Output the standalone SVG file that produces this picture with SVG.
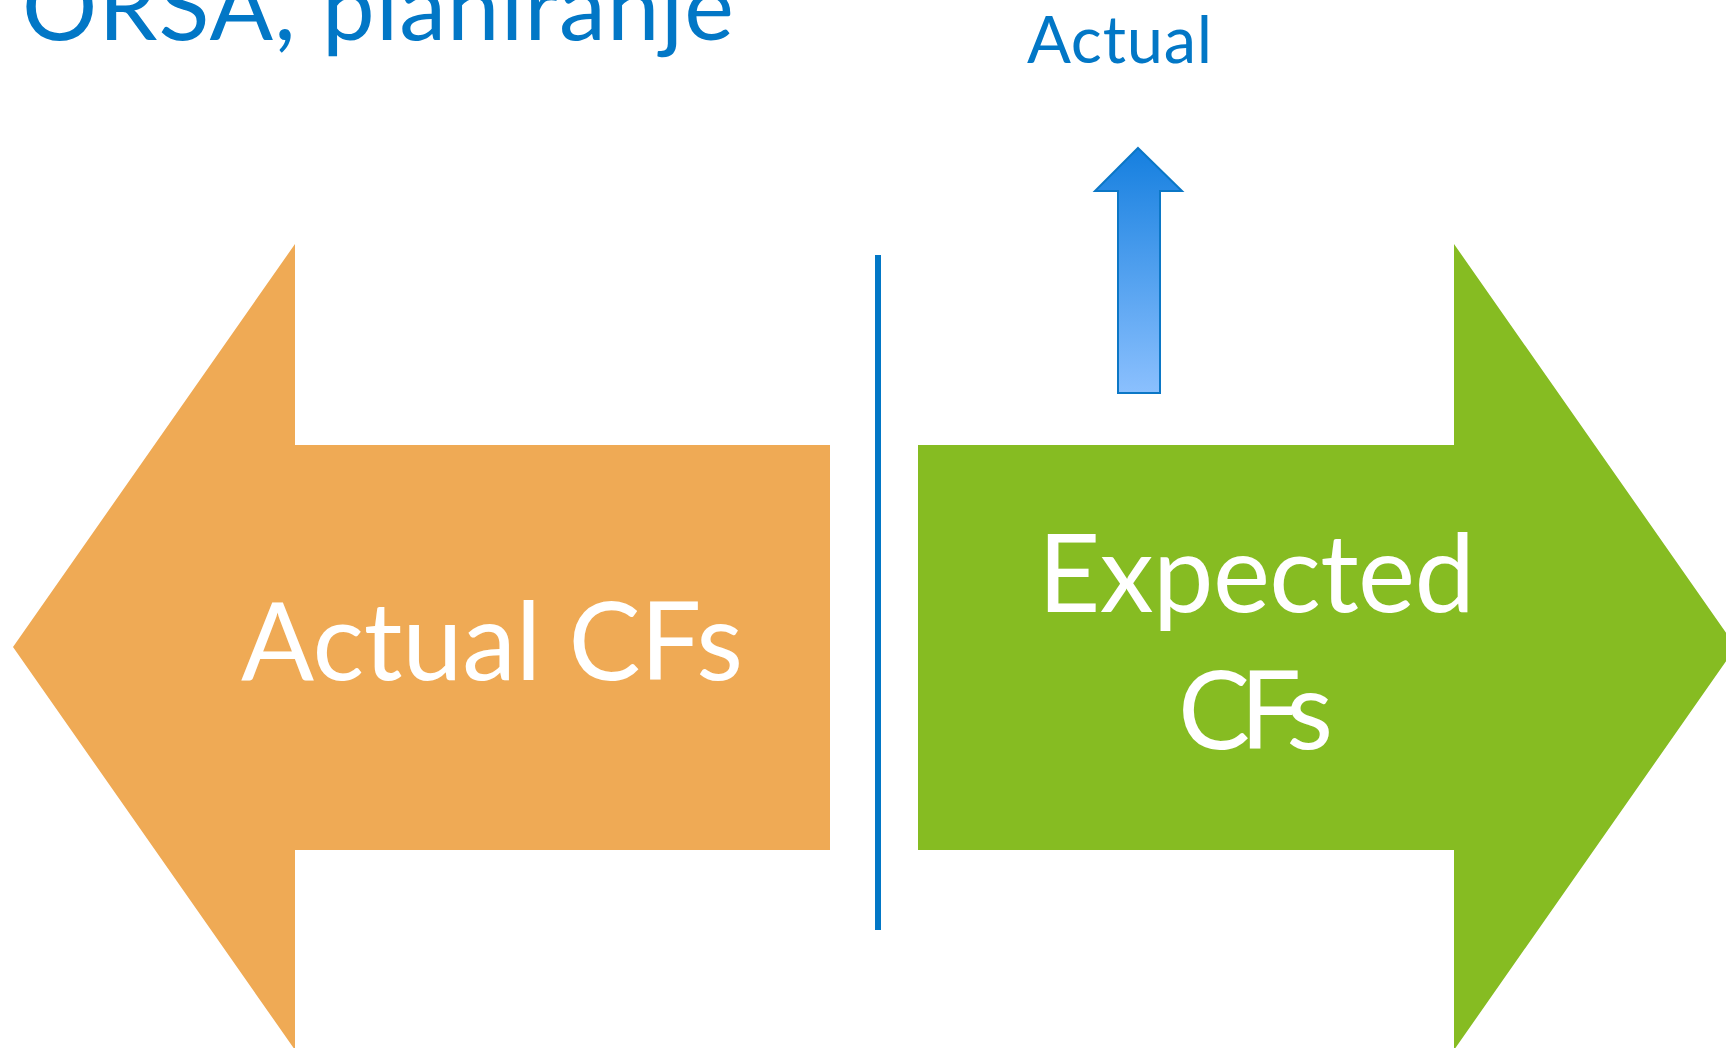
<svg xmlns="http://www.w3.org/2000/svg" width="1726" height="1048" viewBox="0 0 1726 1048">
  <defs>
    <linearGradient id="upGrad" x1="0" y1="0" x2="0" y2="1">
      <stop offset="0" stop-color="#157FDF"/>
      <stop offset="1" stop-color="#8BC0FE"/>
    </linearGradient>
    <style>
      .title { font-family: Lato, "Liberation Sans", sans-serif; fill: #0277C6; }
      .white { font-family: Lato, "Liberation Sans", sans-serif; fill: #FFFFFF; font-size: 108px; }
    </style>
  </defs>
  <rect width="1726" height="1048" fill="#FFFFFF"/>

  <g id="title">
    <text class="title" x="22" y="40" font-size="94" textLength="712" lengthAdjust="spacing">ORSA, planiranje</text>
  </g>

  <g id="actual-label">
    <text class="title" x="1027" y="63" font-size="65" textLength="185" lengthAdjust="spacing">Actual</text>
  </g>

  <g id="up-arrow">
    <polygon points="1138,148 1182,191 1160,191 1160,393 1118,393 1118,191 1095,191" fill="url(#upGrad)" stroke="#0B77C6" stroke-width="2"/>
  </g>

  <g id="actual-cfs">
    <polygon points="13,647 295,244 295,445 830,445 830,850 295,850 295,1050" fill="#EFAA55"/>
    <text class="white" x="241" y="680" textLength="502" lengthAdjust="spacing">Actual CFs</text>
  </g>

  <g id="expected-cfs">
    <polygon points="918,445 1454,445 1454,244 1736,647 1454,1050 1454,850 918,850" fill="#86BC22"/>
    <text class="white" x="1038" y="612" textLength="437" lengthAdjust="spacing">Expected</text>
    <text class="white" x="1178" y="749" textLength="155" lengthAdjust="spacing">CFs</text>
  </g>

  <g id="connectors">
    <rect x="875" y="255" width="6" height="675" fill="#0277C6"/>
  </g>
</svg>
